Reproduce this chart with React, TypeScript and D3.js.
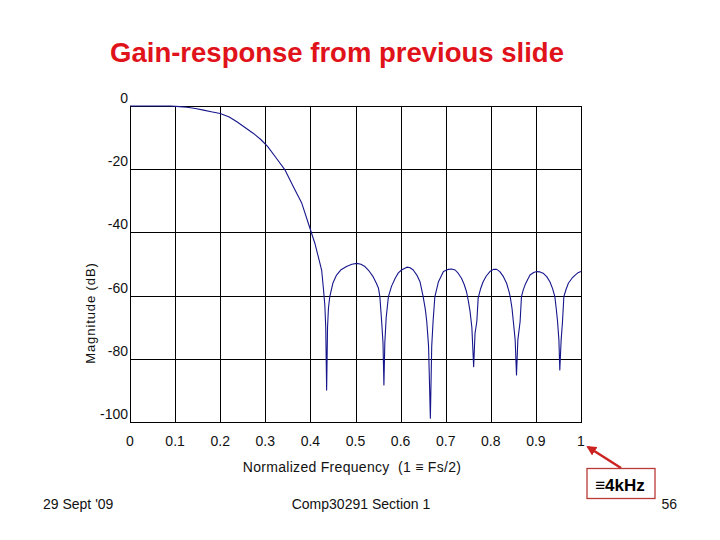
import { line, scaleLinear } from 'd3';

// magnitude response (normalized frequency, dB)
const FREQ = [
  0, 0.05, 0.09, 0.11, 0.126, 0.145, 0.163, 0.18, 0.2, 0.22, 0.237, 0.255, 0.273, 0.29, 0.305,
  0.325, 0.344, 0.362, 0.381, 0.399, 0.41, 0.418, 0.425, 0.429, 0.432, 0.434, 0.436, 0.438, 0.44,
  0.443, 0.45, 0.458, 0.468, 0.48, 0.492, 0.503, 0.512, 0.521, 0.53, 0.539, 0.546, 0.551, 0.554,
  0.558, 0.561, 0.563, 0.565, 0.568, 0.573, 0.58, 0.588, 0.595, 0.602, 0.614, 0.621, 0.628, 0.636,
  0.643, 0.65, 0.655, 0.658, 0.662, 0.666, 0.669, 0.672, 0.676, 0.684, 0.695, 0.706, 0.713, 0.721,
  0.728, 0.735, 0.741, 0.746, 0.75, 0.754, 0.758, 0.762, 0.765, 0.769, 0.772, 0.777, 0.783, 0.79,
  0.798, 0.806, 0.813, 0.82, 0.828, 0.835, 0.84, 0.843, 0.847, 0.85, 0.854, 0.857, 0.86, 0.865,
  0.868, 0.872, 0.876, 0.882, 0.887, 0.895, 0.902, 0.909, 0.916, 0.924, 0.931, 0.937, 0.942, 0.945,
  0.948, 0.951, 0.953, 0.956, 0.959, 0.962, 0.967, 0.972, 0.98, 0.987, 0.993, 1.0,
];
const MAG_DB = [
  0, 0, 0, -0.2, -0.4, -0.8, -1.3, -1.8, -2.4, -3.5, -5, -6.8, -8.6, -10.6, -12.8,
  -16.6, -20.3, -25.5, -30.8, -38.7, -43.5, -48, -52, -58, -63, -70, -89.9, -70, -64,
  -60.3, -56, -53.5, -51.8, -50.8, -50.1, -49.8, -50.1, -50.8, -52.2, -54, -56, -57.7, -60.3,
  -68.2, -75, -88.3, -75, -67, -60.3, -57, -54.5, -52.8, -51.9, -51, -51.2, -51.9, -53.5,
  -55.6, -60.3, -64.5, -68.2, -76, -98.8, -76, -68.2, -60.3, -55.6, -52.4, -51.7, -51.6, -51.9,
  -53, -54.5, -56.5, -58.7, -61.5, -65, -70, -82.5, -72, -68.2, -60.8, -58, -55.6, -53.8,
  -52.4, -51.7, -51.7, -52.4, -54, -56.1, -58.5, -60.3, -64, -68.2, -74, -85.1, -74, -68.2,
  -60.3, -58.2, -56.6, -54.8, -53.5, -52.7, -52.4, -52.5, -52.9, -54, -55.6, -57.8, -60.3, -64,
  -68.2, -74, -83.5, -74, -68.2, -60.3, -58, -56.1, -54.5, -53.5, -52.8, -52.4,
];

const X_TICKS = [0, 0.1, 0.2, 0.3, 0.4, 0.5, 0.6, 0.7, 0.8, 0.9, 1];
const Y_TICKS = [0, -20, -40, -60, -80, -100];

const TITLE = 'Gain-response from previous slide';
const X_LABEL = 'Normalized Frequency  (1 \u2261 Fs/2)';
const Y_LABEL = 'Magnitude (dB)';
const NOTE = '\u22614kHz';
const FOOTER_LEFT = "29 Sept '09";
const FOOTER_MID = 'Comp30291 Section 1';
const FOOTER_RIGHT = '56';

const WIDTH = 720;
const HEIGHT = 540;
const PLOT = { left: 130, right: 581, top: 106, bottom: 422 };
const FONT = "Arial, 'Liberation Sans', sans-serif";

export default function App() {
  const xScale = scaleLinear().domain([0, 1]).range([PLOT.left, PLOT.right]);
  const yScale = scaleLinear().domain([-100, 0]).range([PLOT.bottom, PLOT.top]);

  const points = FREQ.map((f, i) => [f, MAG_DB[i]] as [number, number]);
  const path = line<[number, number]>()
    .x((d) => xScale(d[0]))
    .y((d) => yScale(d[1]))(points);

  // arrow points at the "1" tick label
  const arrowTipX = xScale(1) + 7;
  const arrowTipY = 447;

  return (
    <div style={{ position: 'absolute', left: 0, top: 0, width: WIDTH, height: HEIGHT, background: '#fff' }}>
      <svg width={WIDTH} height={HEIGHT} viewBox={`0 0 ${WIDTH} ${HEIGHT}`} style={{ display: 'block', fontFamily: FONT }}>
        <defs>
          <marker id="arrowHead" viewBox="0 0 10 10" refX="8" refY="5" markerWidth="4" markerHeight="4" orient="auto-start-reverse">
            <path d="M0,0 L10,5 L0,10 z" fill="#cc2222" />
          </marker>
        </defs>
        <rect width={WIDTH} height={HEIGHT} fill="#fff" />

        <text x={337} y={62} textAnchor="middle" fontSize={27.5} fontWeight="bold" fill="#e0121a">
          {TITLE}
        </text>

        {/* grid */}
        <g shapeRendering="crispEdges" stroke="#000" strokeWidth={1}>
          {X_TICKS.map((t) => (
            <line key={`vx-${t}`} x1={Math.round(xScale(t)) + 0.5} x2={Math.round(xScale(t)) + 0.5} y1={PLOT.top} y2={PLOT.bottom} />
          ))}
          {Y_TICKS.map((t) => (
            <line key={`hy-${t}`} x1={PLOT.left} x2={PLOT.right + 1} y1={Math.round(yScale(t)) + 0.5} y2={Math.round(yScale(t)) + 0.5} />
          ))}
        </g>

        <path d={path ?? ''} fill="none" stroke="#16168c" strokeWidth={1.1} strokeLinejoin="round" />

        {/* tick labels */}
        <g fontSize={14} fill="#111">
          {Y_TICKS.map((t) => (
            <text key={`yl-${t}`} x={PLOT.left - 2} y={yScale(t) - 3} textAnchor="end">
              {String(t)}
            </text>
          ))}
          {X_TICKS.map((t) => (
            <text key={`xl-${t}`} x={xScale(t)} y={446} textAnchor="middle">
              {String(t)}
            </text>
          ))}
        </g>

        <text x={352} y={472} textAnchor="middle" fontSize={14} letterSpacing={0.3} fill="#111" style={{ whiteSpace: 'pre' }}>
          {X_LABEL}
        </text>
        <text
          transform={`translate(95 ${313}) rotate(-90)`}
          textAnchor="middle"
          fontSize={13}
          letterSpacing={0.9}
          fill="#111"
        >
          {Y_LABEL}
        </text>

        {/* annotation */}
        <line x1={621} y1={468} x2={arrowTipX} y2={arrowTipY} stroke="#cc2222" strokeWidth={2.5} markerEnd="url(#arrowHead)" />
        <rect x={587} y={468.5} width={68} height={30} fill="#fff" stroke="#b83a36" strokeWidth={1.3} />
        <text x={620} y={491} textAnchor="middle" fontSize={17} fontWeight="bold" fill="#000">
          {NOTE}
        </text>

        {/* footer */}
        <g fontSize={14} fill="#111">
          <text x={43} y={509}>{FOOTER_LEFT}</text>
          <text x={361} y={509} textAnchor="middle">{FOOTER_MID}</text>
          <text x={677} y={509} textAnchor="end">{FOOTER_RIGHT}</text>
        </g>
      </svg>
    </div>
  );
}
